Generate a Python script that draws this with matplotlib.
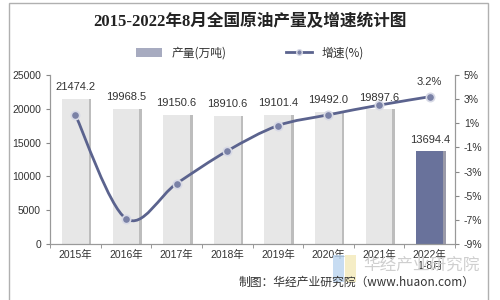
import numpy as np
import matplotlib
matplotlib.use('AGG')
import matplotlib.pyplot as plt
from matplotlib.path import Path
from matplotlib.patches import PathPatch, Rectangle, Patch
from matplotlib.lines import Line2D

# data
years = ['2015年', '2016年', '2017年', '2018年', '2019年', '2020年', '2021年', '2022年\n1-8月']
output = [21474.2, 19968.5, 19150.6, 18910.6, 19101.4, 19492.0, 19897.6, 13694.4]
output_labels = ['21474.2', '19968.5', '19150.6', '18910.6', '19101.4', '19492.0', '19897.6', '13694.4']
growth = [1.7, -6.9, -4.0, -1.3, 0.8, 1.7, 2.5, 3.2]

CJK = ['Noto Sans CJK SC', 'DejaVu Sans']
NUM = ['Liberation Sans', 'Noto Sans CJK SC']
TXT = '#333333'
LINE = '#5b638e'

fig = plt.figure(figsize=(5, 3), dpi=100)
ax = fig.add_axes([0.1, 0.187, 0.81, 0.563])
ax2 = ax.twinx()

x = np.arange(len(years))
# bars with a soft shadow on the right
colors = ['#e7e7e7'] * 7 + ['#69729b']
shadows = ['#bdbdbd'] * 7 + ['#9a9aa8']
ax.bar(x + 0.05, output, width=0.53, color=shadows, zorder=1)
ax.bar(x, output, width=0.53, color=colors, zorder=2)
for i, v in enumerate(output):
    ax.text(x[i], v + 1000, output_labels[i], ha='center', va='bottom',
            fontsize=8, color=TXT, family=NUM)

ax.set_xlim(-0.5, 7.5)
ax.set_ylim(0, 25000)
ax.set_yticks(range(0, 25001, 5000))
ax.set_xticks(x)
ax.set_xticklabels(years, family=NUM, fontsize=7.5, color=TXT)
ax.set_xticks(np.arange(-0.5, 8, 1), minor=True)
ax.tick_params(axis='x', which='major', length=0, pad=4)
ax.tick_params(axis='x', which='minor', length=3, color='#888888', direction='out')
ax.tick_params(axis='y', length=3, color='#888888', labelsize=7.5, labelcolor=TXT)
for t in ax.get_yticklabels():
    t.set_family(NUM)

# smooth growth line (bezier through the points)
gx = x.astype(float)
gy = np.array(growth)
verts = [(gx[0], gy[0])]
codes = [Path.MOVETO]
for i in range(len(gx) - 1):
    p0 = np.array([gx[max(i - 1, 0)], gy[max(i - 1, 0)]])
    p1 = np.array([gx[i], gy[i]])
    p2 = np.array([gx[i + 1], gy[i + 1]])
    p3 = np.array([gx[min(i + 2, len(gx) - 1)], gy[min(i + 2, len(gx) - 1)]])
    c1 = p1 + (p2 - p0) / 6
    c2 = p2 - (p3 - p1) / 6
    verts += [tuple(c1), tuple(c2), tuple(p2)]
    codes += [Path.CURVE4] * 3
ax2.add_patch(PathPatch(Path(verts, codes), facecolor='none', edgecolor=LINE,
                        lw=2, zorder=3))
ax2.plot(gx, gy, ls='none', marker='o', ms=6, mfc='#7a81a6', mec='#d8dae6',
         mew=1.2, zorder=4)
ax2.text(gx[-1], gy[-1] + 0.8, '3.2%', ha='center', va='bottom',
         fontsize=8, color=TXT, family=NUM)

ax2.set_ylim(-9, 5)
ax2.set_yticks(range(-9, 6, 2))
ax2.set_yticklabels(['%d%%' % v for v in range(-9, 6, 2)], family=NUM,
                    fontsize=7.5, color=TXT)
ax2.tick_params(axis='y', length=3, color='#888888')

for a in (ax, ax2):
    a.spines['top'].set_visible(False)
    for s in ('left', 'right', 'bottom'):
        a.spines[s].set_color('#999999')
        a.spines[s].set_linewidth(0.8)
ax.set_zorder(ax2.get_zorder() - 1)
ax2.patch.set_visible(False)

# title and legend
fig.text(0.5, 0.925, '2015-2022年8月全国原油产量及增速统计图', ha='center', va='center',
         fontsize=12, fontweight='bold', color='#222222',
         family=['Liberation Serif', 'Noto Sans CJK SC'])
handles = [Patch(facecolor='#a7abc0', edgecolor='none'),
           Line2D([], [], color=LINE, lw=2, marker='o', ms=4, mfc='#7a81a6', mec='#d8dae6')]
fig.legend(handles, ['产量(万吨)', '增速(%)'], loc='center', bbox_to_anchor=(0.5, 0.823),
           ncol=2, frameon=False, prop={'family': CJK, 'size': 8.5},
           columnspacing=5, handlelength=2.2, labelcolor=TXT)

# watermark, logo and source
fig.patches.append(Rectangle((0.665, 0.06), 0.022, 0.09, transform=fig.transFigure,
                             facecolor='#b9d4ef', alpha=0.8, zorder=0))
fig.patches.append(Rectangle((0.69, 0.06), 0.022, 0.09, transform=fig.transFigure,
                             facecolor='#f3e9b8', alpha=0.8, zorder=0))
fig.text(0.96, 0.115, '华经产业研究院', ha='right', va='center', fontsize=12,
         color='#cfcfcf', family=CJK, zorder=0)
fig.text(0.95, 0.058, '制图：华经产业研究院（www.huaon.com）', ha='right', va='center',
         fontsize=8.5, color=TXT, family=CJK)

# outer frame
fig.patches.append(Rectangle((0.018, -0.01), 0.958, 1.0, transform=fig.transFigure,
                             facecolor='none', edgecolor='#b0b0b0', lw=1))

fig.savefig('out.png', dpi=100)
